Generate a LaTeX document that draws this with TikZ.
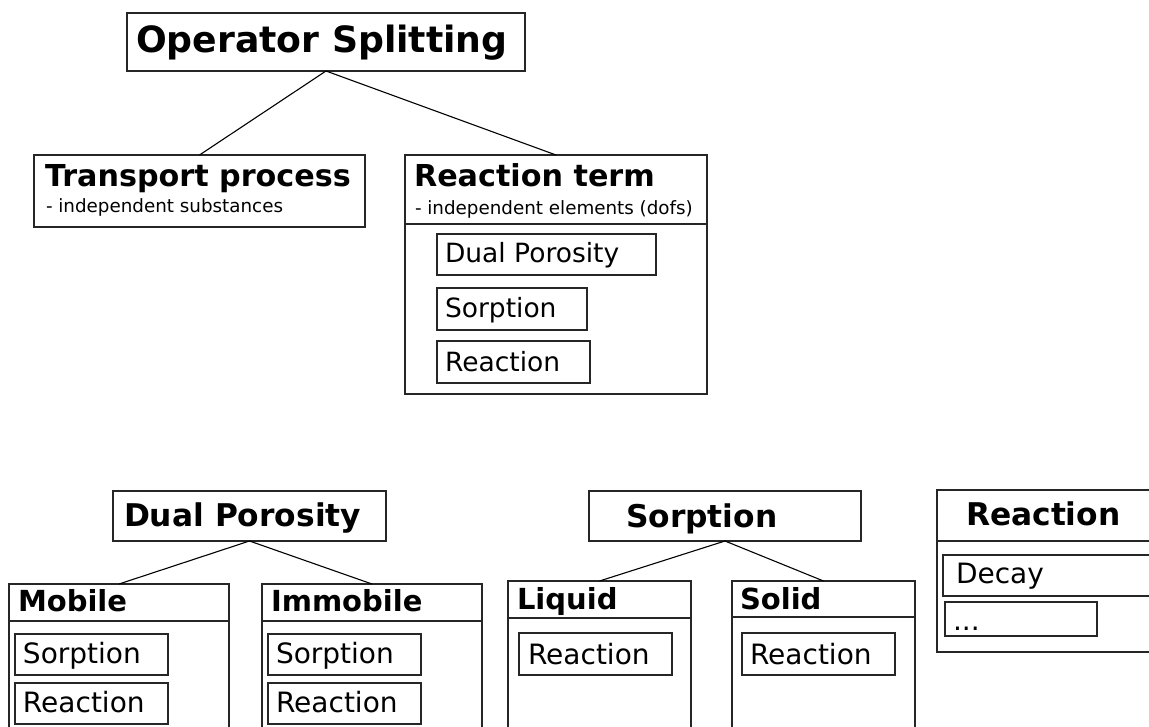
\documentclass[tikz,border=0pt]{standalone}
\usepackage{fontspec}
\setmainfont{DejaVu Sans}
\tikzset{
  box/.style={draw=black!85, line width=1.2pt, rectangle, inner sep=0pt, outer sep=0pt},
  conn/.style={draw=black, line width=1.1pt},
  txt/.style={anchor=base west, inner sep=0pt, outer sep=0pt},
  bigt/.style={txt, font=\bfseries\fontsize{36.2}{40}\selectfont},
  headt/.style={txt, font=\bfseries\fontsize{30.2}{34}\selectfont},
  headb/.style={txt, font=\bfseries\fontsize{31.3}{35}\selectfont},
  heads/.style={txt, font=\bfseries\fontsize{29}{33}\selectfont},
  subt/.style={txt, font=\fontsize{18.3}{20}\selectfont},
  itemt/.style={txt, font=\fontsize{26.5}{30}\selectfont},
  itemb/.style={txt, font=\fontsize{28}{32}\selectfont},
}
\newcommand{\bx}[5]{\node[box, minimum width={(#4)-(#2)}, minimum height={(#5)-(#3)}] (#1) at ({((#2)+(#4))/2},{((#3)+(#5))/2}) {};}
\begin{document}
\begin{tikzpicture}[x=1pt,y=-1pt]
\useasboundingbox (0,0) rectangle (1149,727);
\fill[white] (0,0) rectangle (1149,727);
\clip (0,0) rectangle (1149,727);
% top part
\bx{os}{127}{13}{525}{71}
\bx{tp}{34}{155}{365}{227}
\bx{rt}{405}{155}{707}{224}
\bx{rtb}{405}{224}{707}{394}
\bx{rtA}{437}{234}{656}{275}
\bx{rtB}{437}{288}{587}{330}
\bx{rtC}{437}{341}{590}{383}
\node[bigt] (ost) at (136,53) {Operator Splitting};
\node[headt] (tpt) at (45,187) {Transport process};
\node[subt] (tps) at (46,213) {- independent substances};
\node[headt] (rtt) at (414,187) {Reaction term};
\node[subt] (rts) at (415,215) {- independent elements (dofs)};
\node[itemt] (rtAt) at (445,263) {Dual Porosity};
\node[itemt] (rtBt) at (445,318) {Sorption};
\node[itemt] (rtCt) at (445,372) {Reaction};
\draw[conn] (os.south) -- (tp.north);
\draw[conn] (os.south) -- (rt.north);
% dual porosity
\bx{dp}{113}{491}{386}{541}
\bx{mob}{9}{584}{229}{621}
\bx{mobb}{9}{621}{229}{760}
\bx{mobA}{15}{634}{168}{675}
\bx{mobB}{15}{683}{168}{724}
\bx{imm}{262}{584}{482}{621}
\bx{immb}{262}{621}{482}{760}
\bx{immA}{268}{634}{421}{675}
\bx{immB}{268}{683}{421}{724}
\node[headb] (dpt) at (124,526) {Dual Porosity};
\node[heads] (mobt) at (18,611) {Mobile};
\node[heads] (immt) at (271,611) {Immobile};
\node[itemb] (mobAt) at (23,663) {Sorption};
\node[itemb] (mobBt) at (23,712) {Reaction};
\node[itemb] (immAt) at (276,663) {Sorption};
\node[itemb] (immBt) at (276,712) {Reaction};
\draw[conn] (dp.south) -- (mob.north);
\draw[conn] (dp.south) -- (imm.north);
% sorption
\bx{sor}{589}{491}{861}{541}
\bx{liq}{508}{581}{691}{618}
\bx{liqb}{508}{618}{691}{760}
\bx{liqA}{519}{633}{672}{675}
\bx{sol}{732}{581}{915}{617}
\bx{solb}{732}{617}{915}{760}
\bx{solA}{742}{633}{895}{675}
\node[headb] (sort) at (626,527) {Sorption};
\node[heads] (liqt) at (517,609) {Liquid};
\node[heads] (solt) at (740,609) {Solid};
\node[itemb] (liqAt) at (528,664) {Reaction};
\node[itemb] (solAt) at (750,664) {Reaction};
\draw[conn] (sor.south) -- (liq.north);
\draw[conn] (sor.south) -- (sol.north);
% reaction
\bx{rea}{937}{490}{1170}{541}
\bx{reab}{937}{541}{1170}{652}
\bx{reaA}{943}{555}{1170}{596}
\bx{reaB}{945}{602}{1097}{636}
\node[headb] (reat) at (966,525) {Reaction};
\node[itemb] (reaAt) at (956,583) {Decay};
\node[itemb] (reaBt) at (953,630) {...};
\end{tikzpicture}
\end{document}
